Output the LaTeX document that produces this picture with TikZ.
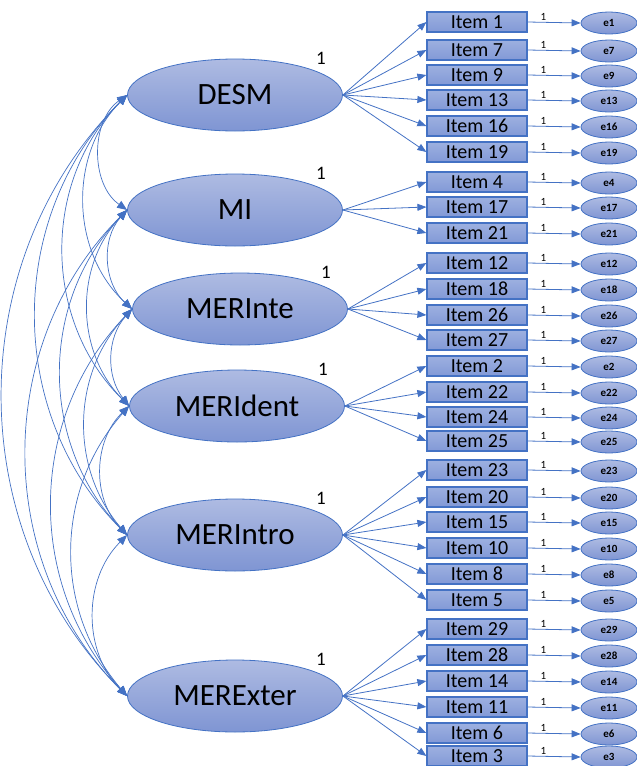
\documentclass[tikz,border=0pt]{standalone}
\usepackage{fontspec}
\setmainfont{Carlito}
\usetikzlibrary{arrows.meta, shapes.geometric}
\definecolor{amosblue}{HTML}{4472C4}
\definecolor{filltop}{HTML}{AEBBE2}
\definecolor{fillbot}{HTML}{7F95D3}
\definecolor{boxtop}{HTML}{9DB0E0}
\definecolor{boxbot}{HTML}{8299D6}

\begin{document}
\begin{tikzpicture}[x=1pt, y=-1pt,
  latent/.style={ellipse, draw=amosblue, line width=0.8pt, top color=filltop, bottom color=fillbot, minimum width=215pt, minimum height=72pt, inner sep=0pt, font=\fontsize{31}{33}\selectfont},
  item/.style={rectangle, draw=amosblue, line width=1.2pt, top color=boxtop, bottom color=boxbot, minimum width=100pt, minimum height=20pt, inner sep=0pt, font=\fontsize{20}{21}\selectfont},
  err/.style={ellipse, draw=amosblue, line width=0.8pt, top color=filltop, bottom color=fillbot, minimum width=56pt, minimum height=22pt, inner sep=0pt, font=\fontsize{11}{12}\bfseries\selectfont},
  load/.style={draw=amosblue, line width=0.8pt, -{Triangle[length=9pt,width=7pt]}},
  cov/.style={draw=amosblue, line width=0.7pt, {Triangle[length=10pt,width=8pt]}-{Triangle[length=10pt,width=8pt]}},
  one/.style={font=\fontsize{19}{20}\selectfont},
  smallone/.style={font=\fontsize{11}{12}\selectfont, inner sep=1pt}]

\useasboundingbox (0,0) rectangle (637,766);

% latent factors
\node[latent] (desm) at (235,95) {DESM};
\node[latent] (mi) at (235,210) {MI};
\node[latent] (merinte) at (240,309) {MERInte};
\node[latent] (merident) at (237,406) {MERIdent};
\node[latent] (merintro) at (235,535) {MERIntro};
\node[latent] (merexter) at (235,696) {MERExter};

\foreach \lat in {desm,mi,merinte,merident,merintro,merexter}
  \node[one] at ([shift={(86,-37)}]\lat.center) {1};

% items and errors
\foreach \lat/\items in {desm/{1/22,7/50,9/75,13/100,16/126,19/152},
    mi/{4/182,17/207,21/233},
    merinte/{12/263,18/289,26/315,27/340},
    merident/{2/366,22/392,24/417,25/441},
    merintro/{23/470,20/497,15/522,10/548,8/574,5/600},
    merexter/{29/629,28/655,14/681,11/707,6/733,3/756}}{
  \foreach \n/\y in \items {
    \node[item] (i\n) at (477,\y) {Item \n};
    \node[err] (e\n) at (609,\y+1) {e\n};
    \draw[load] (\lat.east) -- (i\n.west);
    \draw[load] (i\n.east) -- node[smallone, above, pos=0.3] {1} (e\n.west);
  }
}

% covariances
\foreach \a/\b/\ang in {desm/mi/55, desm/merinte/46, desm/merident/45, desm/merintro/45, desm/merexter/45,
    mi/merinte/45, mi/merident/44, mi/merintro/44, mi/merexter/45,
    merinte/merident/40, merinte/merintro/42, merinte/merexter/43,
    merident/merintro/45, merident/merexter/41,
    merintro/merexter/45}
  \draw[cov] (\a.west) to[bend right=\ang] (\b.west);
\end{tikzpicture}
\end{document}
